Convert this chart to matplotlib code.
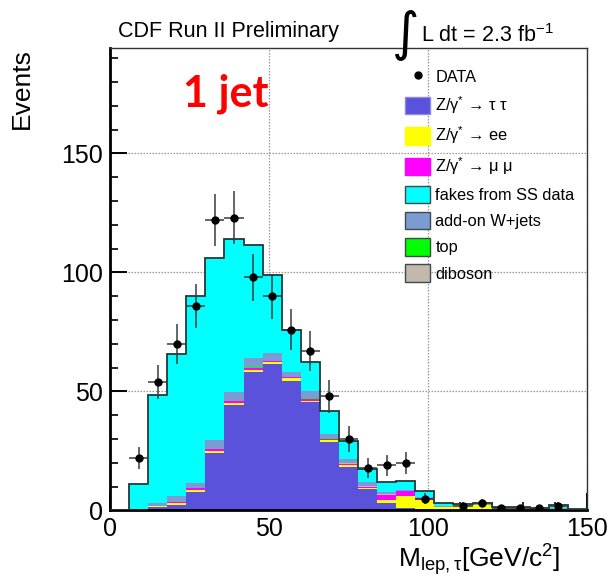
import matplotlib
matplotlib.use("Agg")
import matplotlib.pyplot as plt
from matplotlib.patches import Patch
from matplotlib.lines import Line2D
import numpy as np

plt.rcParams['font.family'] = ['Liberation Sans', 'DejaVu Sans']
plt.rcParams['mathtext.fontset'] = 'custom'
plt.rcParams['mathtext.rm'] = 'Liberation Sans'
plt.rcParams['mathtext.it'] = 'Liberation Sans:italic'
plt.rcParams['mathtext.sf'] = 'Liberation Sans'

# binning : 25 bins of 6 GeV/c2
edges = np.arange(0, 151, 6)
centers = edges[:-1] + 3

# MC stack (events per bin)
ztt = [0, 0, 1.5, 2.3, 7.9, 24.3, 44.3, 58.3, 61.4, 54.5, 45.5, 28.9, 18.4,
       8.9, 3.3, 1.0, 0.5, 0.3, 0.2, 0.2, 0.2, 0.2, 0.1, 0.2, 0.1]
zee = [0, 0, 0.2, 0.8, 0.8, 0.7, 0.9, 0.9, 1.0, 1.0, 0.6, 0.8, 0.6,
       0.6, 1.1, 5.0, 3.9, 1.0, 1.5, 2.0, 0.4, 0.4, 0.3, 0.4, 0.2]
zmm = [0, 0, 0.1, 0.3, 0.6, 0.8, 0.8, 0.8, 0.4, 0.4, 0.9, 0.5, 0.6,
       0.4, 2.2, 2.1, 0.8, 0.2, 0.2, 0.2, 0.1, 0.1, 0.1, 0.1, 0.1]
top = [0, 0, 0, 0, 0, 0.1, 0.1, 0.1, 0.1, 0.1, 0.1, 0.1, 0.1,
       0.1, 0.1, 0.1, 0, 0, 0, 0, 0, 0, 0, 0, 0]
diboson = [0, 0, 0, 0, 0.1, 0.1, 0.1, 0.1, 0.1, 0.1, 0.1, 0.1, 0.1,
           0.1, 0.1, 0.1, 0.1, 0.1, 0.1, 0.1, 0, 0, 0, 0, 0]
wjets = [0, 0, 1.4, 2.8, 2.1, 3.5, 3.4, 3.9, 3.2, 2.2, 3.1, 1.7, 1.7,
         2.0, 1.1, 0.3, 0.4, 0.2, 0.1, 0.1, 0.2, 0.2, 0.2, 0.3, 0.1]
fakes = [0, 11.1, 45.3, 59.4, 78.4, 76.4, 64.4, 47.5, 32.6, 17.5, 12.2, 9.7, 7.7,
         5.2, 3.9, 3.8, 2.6, 1.5, 0.6, 0.4, 0.6, 0.6, 0.3, 1.3, 0.2]

# data points and their errors
data = [0, 22, 54, 70, 86, 122, 123, 98, 90, 76, 67, 48, 30,
        18, 19, 20, 5, 0, 2, 3, 1, 1, 1, 2, 0]
data_err = [0, 4.7, 7.3, 8.4, 9.3, 11.0, 11.1, 9.9, 9.5, 8.7, 8.2, 6.9, 5.5,
            4.2, 4.4, 4.5, 2.2, 0, 1.4, 1.7, 1.0, 1.0, 1.0, 1.4, 0]

c_ztt = '#5a52da'
c_zee = '#ffff00'
c_zmm = '#ff00ff'
c_top = '#00ff00'
c_dib = '#c2b8ac'
c_wj = '#7b9bd3'
c_fk = '#00ffff'

fig = plt.figure(figsize=(6.12, 5.77), dpi=100)
ax = fig.add_axes([0.1797, 0.1153, 0.9592 - 0.1797, 0.9168 - 0.1153])

ax.hist([centers] * 7, bins=edges,
        weights=[ztt, zee, zmm, top, diboson, wjets, fakes],
        stacked=True, histtype='stepfilled', linewidth=0,
        color=[c_ztt, c_zee, c_zmm, c_top, c_dib, c_wj, c_fk], zorder=2)
total = np.sum([ztt, zee, zmm, top, diboson, wjets, fakes], axis=0)
ax.stairs(total, edges, color='#1e3a3a', linewidth=1.3, zorder=3)

d = np.array(data, dtype=float)
m = d > 0
ax.errorbar(centers[m], d[m], yerr=np.array(data_err)[m], xerr=3,
            fmt='o', ms=5, color='black', ecolor='#3a3a3a',
            elinewidth=1.1, capsize=0, zorder=5)

ax.set_xlim(0, 150)
ax.set_ylim(0, 194.3)
ax.set_xticks([0, 50, 100, 150])
ax.set_yticks([0, 50, 100, 150])
ax.set_xticks(np.arange(0, 151, 10), minor=True)
ax.set_yticks(np.arange(0, 191, 10), minor=True)
ax.tick_params(which='major', direction='in', length=12, width=1.4,
               labelsize=18, pad=5, top=False, right=False)
ax.tick_params(which='minor', direction='in', length=6, width=1.2,
               top=False, right=False)
ax.grid(which='major', color='#999999', linestyle=(0, (1.2, 1.2)), linewidth=0.9)
ax.set_axisbelow(True)
for s in ['left', 'bottom']:
    ax.spines[s].set_linewidth(2.0)
for s in ['top', 'right']:
    ax.spines[s].set_linewidth(1.0)
    ax.spines[s].set_color('#333333')

ax.set_ylabel("Events", fontsize=19, loc='top')
ax.yaxis.set_label_coords(-76 / 477, 1.0)
ax.set_xlabel(r"M$_{\mathrm{lep,τ}}$[GeV/c$^{2}$]", fontsize=19, loc='right')
ax.xaxis.set_label_coords(1.0 - 27 / 477, -0.068)

fig.text(118 / 612, 1 - 37 / 577, "CDF Run II Preliminary", fontsize=15.5,
         ha='left', va='baseline')
fig.text(392 / 612, 1 - 50 / 577, "\u222b", fontsize=38, family='DejaVu Sans',
         ha='left', va='baseline')
fig.text(421 / 612, 1 - 42 / 577, r"L dt = 2.3 fb$^{\mathrm{-1}}$", fontsize=15.5,
         ha='left', va='baseline')
fig.text(183 / 612, 1 - 107 / 577, "1 jet", fontsize=31, family='Lato',
         fontweight='bold', color='#ff0000', ha='left', va='baseline')

handles = [
    Line2D([], [], marker='o', ms=5, color='black', linestyle='none'),
    Patch(facecolor=c_ztt, edgecolor='#8c86e6', linewidth=1),
    Patch(facecolor=c_zee, edgecolor=c_zee, linewidth=1),
    Patch(facecolor=c_zmm, edgecolor=c_zmm, linewidth=1),
    Patch(facecolor=c_fk, edgecolor='#3c4c4c', linewidth=1),
    Patch(facecolor=c_wj, edgecolor='#3c4c4c', linewidth=1),
    Patch(facecolor=c_top, edgecolor='#3c4c4c', linewidth=1),
    Patch(facecolor=c_dib, edgecolor='#3c4c4c', linewidth=1),
]
labels = ["DATA", "Z/γ$^{*}$ → τ τ", "Z/γ$^{*}$ → ee", "Z/γ$^{*}$ → μ μ",
          "fakes from SS data", "add-on W+jets", "top", "diboson"]
fig.legend(handles, labels, loc='upper left', bbox_to_anchor=(405 / 612, 1 - 68 / 577),
           frameon=False, fontsize=11.8, handlelength=1.55, handleheight=1.25,
           handletextpad=0.3, labelspacing=0.54, borderpad=0, borderaxespad=0)

fig.savefig("out.png", dpi=100)
